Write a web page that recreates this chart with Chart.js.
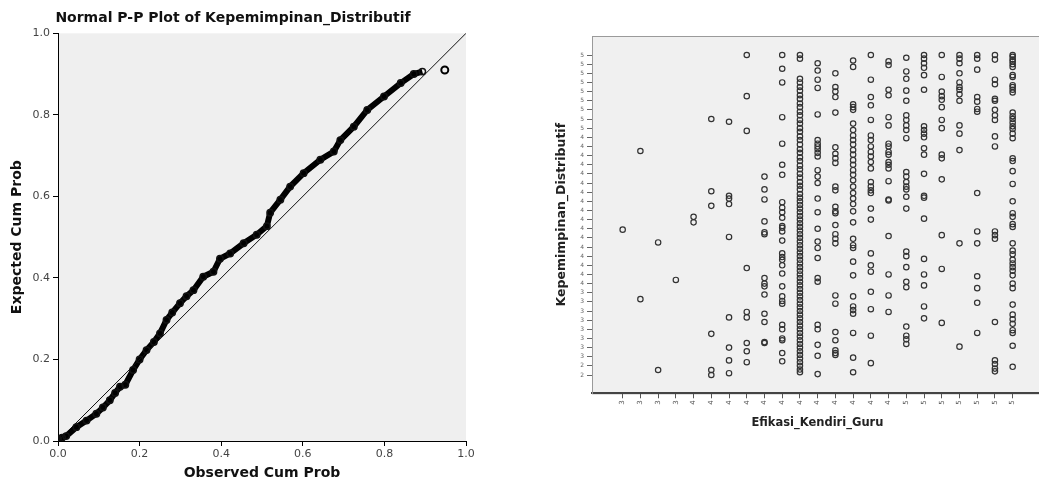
<!DOCTYPE html>
<html>
<head>
<meta charset="utf-8">
<script src="https://cdn.jsdelivr.net/npm/chart.js@4.4.1/dist/chart.umd.min.js"></script>
<style>
  html, body { margin: 0; padding: 0; background: #fff; overflow: hidden; }
  #ppWrap { position: absolute; left: 0; top: 0; width: 480px; height: 485px; }
  #scWrap { position: absolute; left: 540px; top: 0; width: 508px; height: 440px; }
</style>
</head>
<body>
<div id="ppWrap"><canvas id="ppChart"></canvas></div>
<div id="scWrap"><canvas id="scatterChart"></canvas></div>
<script>
// P-P plot: points
const ppObserved = [0.0, 0.01, 0.02, 0.045, 0.07, 0.094, 0.11, 0.127, 0.14, 0.152, 0.165, 0.184, 0.2, 0.217, 0.235, 0.25, 0.266, 0.28, 0.299, 0.315, 0.332, 0.356, 0.381, 0.397, 0.422, 0.455, 0.487, 0.512, 0.52, 0.545, 0.569, 0.602, 0.643, 0.676, 0.692, 0.725, 0.758, 0.799, 0.84, 0.872, 0.893];
const ppExpected = [0.005, 0.008, 0.012, 0.034, 0.05, 0.067, 0.082, 0.10, 0.118, 0.133, 0.138, 0.174, 0.2, 0.223, 0.243, 0.264, 0.297, 0.315, 0.338, 0.355, 0.37, 0.403, 0.415, 0.447, 0.46, 0.485, 0.506, 0.527, 0.56, 0.592, 0.624, 0.657, 0.69, 0.71, 0.738, 0.771, 0.812, 0.845, 0.878, 0.9, 0.906];
const ppOutlier = [{ x: 0.948, y: 0.91 }];
const ppTicks = [0, 0.2, 0.4, 0.6, 0.8, 1.0];

// Scatter: categorical tick labels and point levels per x column
const xCategoryLabels = ['3', '3', '3', '3', '4', '4', '4', '4', '4', '4', '4', '4', '4', '4', '4', '4', '5', '5', '5', '5', '5', '5', '5'];
const yCategoryLabels = ['2', '2', '3', '3', '3', '3', '3', '3', '3', '3', '4', '4', '4', '4', '4', '4', '4', '4', '4', '4', '4', '4', '4', '4', '4', '4', '4', '5', '5', '5', '5', '5', '5', '5', '5', '5'];
const columnLevels = [
  [15.9],
  [24.5, 8.3],
  [14.5, 0.55],
  [10.4],
  [17.3, 16.7],
  [28.0, 20.1, 18.5, 4.5, 0.55, 0.0],
  [27.7, 19.6, 19.3, 18.7, 15.1, 6.3, 3.0, 1.6, 0.2],
  [35.0, 30.5, 26.7, 11.7, 6.9, 6.3, 3.5, 2.6, 1.4],
  [21.7, 20.3, 19.2, 16.8, 15.6, 15.4, 10.6, 10.0, 9.7, 8.8, 6.7, 5.8, 3.6, 3.5],
  [35.0, 33.5, 32.0, 28.2, 25.3, 23.0, 21.9, 18.9, 18.3, 17.8, 17.2, 16.3, 16.1, 15.7, 14.7, 13.3, 12.9, 12.6, 12.0, 11.1, 9.7, 8.6, 8.1, 7.8, 5.5, 5.0, 4.0, 3.8, 2.4, 1.5],
  [35.0, 34.6, 32.4, 32.0, 31.5, 31.1, 30.6, 30.2, 29.7, 29.3, 28.8, 28.4, 27.9, 27.5, 27.0, 26.6, 26.1, 25.7, 25.2, 24.7, 24.3, 23.8, 23.4, 22.9, 22.5, 22.0, 21.6, 21.1, 20.7, 20.3, 19.8, 19.4, 19.0, 18.6, 18.2, 17.8, 17.4, 17.0, 16.6, 16.2, 15.8, 15.4, 15.0, 14.6, 14.2, 13.8, 13.4, 13.0, 12.6, 12.2, 11.8, 11.4, 11.0, 10.6, 10.2, 9.8, 9.4, 9.0, 8.6, 8.2, 7.8, 7.4, 7.0, 6.6, 6.2, 5.8, 5.4, 5.0, 4.6, 4.2, 3.8, 3.4, 3.0, 2.6, 2.2, 1.8, 1.4, 1.0, 0.6, 0.3],
  [34.1, 33.3, 32.3, 31.4, 28.5, 25.7, 25.3, 25.0, 24.7, 24.3, 23.9, 22.4, 21.7, 21.0, 19.3, 17.8, 16.0, 14.6, 13.9, 12.8, 10.6, 10.2, 5.5, 5.0, 3.3, 2.1, 0.1],
  [33.0, 31.5, 31.0, 30.4, 28.7, 24.9, 24.2, 23.7, 23.2, 20.6, 20.2, 18.4, 17.9, 17.7, 16.4, 15.4, 14.9, 14.4, 8.7, 7.8, 4.7, 3.8, 2.7, 2.4, 2.2],
  [34.4, 33.7, 29.6, 29.3, 29.0, 27.5, 26.8, 26.2, 25.7, 25.2, 24.6, 24.1, 23.5, 23.0, 22.4, 21.9, 21.3, 20.6, 19.9, 19.3, 18.7, 17.9, 16.7, 14.9, 14.2, 13.9, 12.4, 10.9, 8.6, 7.5, 7.1, 6.7, 4.6, 1.9, 0.3],
  [35.0, 32.3, 30.4, 29.5, 27.9, 26.2, 25.7, 25.0, 24.4, 23.9, 23.3, 22.6, 21.1, 20.6, 20.2, 19.9, 18.2, 17.0, 13.3, 12.0, 11.3, 9.1, 7.2, 4.3, 1.3],
  [34.3, 33.9, 31.2, 30.6, 28.2, 27.3, 25.3, 25.0, 24.4, 24.1, 23.3, 23.0, 22.6, 21.2, 19.2, 19.1, 15.2, 11.0, 8.7, 6.9],
  [34.7, 33.2, 32.4, 31.1, 30.0, 28.4, 27.9, 27.3, 26.8, 25.9, 22.2, 21.7, 21.1, 20.6, 20.3, 19.5, 18.2, 13.5, 13.0, 11.8, 10.2, 9.6, 5.3, 4.3, 3.9, 3.4],
  [35.0, 34.6, 34.1, 33.6, 32.8, 31.2, 27.2, 26.8, 26.4, 26.0, 24.8, 24.1, 22.0, 19.6, 19.4, 17.1, 12.7, 11.0, 9.8, 7.5, 6.2],
  [35.0, 32.6, 31.0, 30.5, 30.1, 29.3, 27.9, 27.0, 24.1, 23.7, 21.4, 15.3, 11.6, 5.7],
  [35.0, 34.6, 34.1, 33.0, 32.0, 31.5, 31.2, 30.7, 30.0, 27.3, 26.4, 24.6, 14.4, 3.1],
  [35.0, 34.6, 33.4, 30.4, 29.9, 29.1, 28.8, 19.9, 15.7, 14.4, 10.8, 9.5, 7.9, 4.6],
  [35.0, 34.5, 32.3, 31.8, 30.2, 30.0, 29.0, 28.4, 27.9, 26.1, 25.0, 15.7, 15.3, 14.9, 5.8, 1.6, 1.2, 0.7, 0.4],
  [35.0, 34.8, 34.5, 34.3, 34.0, 33.7, 32.8, 32.6, 31.7, 31.5, 31.2, 30.9, 28.7, 28.3, 28.0, 27.6, 27.2, 26.9, 26.4, 25.9, 23.7, 23.4, 22.3, 20.9, 19.0, 17.7, 17.3, 16.5, 16.2, 14.4, 13.6, 13.2, 12.6, 12.2, 11.8, 11.4, 10.9, 10.0, 9.5, 7.7, 6.6, 6.1, 5.6, 4.9, 4.6, 3.2, 0.9]
];

const FONT = 'DejaVu Sans';

const plotBg = {
  id: 'plotBg',
  beforeDraw(chart, args, opts) {
    const { ctx, chartArea: a } = chart;
    ctx.save();
    ctx.fillStyle = opts.color;
    ctx.fillRect(a.left, a.top, a.right - a.left, a.bottom - a.top);
    if (opts.frame) {
      ctx.strokeStyle = opts.frame;
      ctx.lineWidth = 1;
      ctx.strokeRect(a.left + 0.5, a.top + 0.5, a.right - a.left, a.bottom - a.top);
    }
    ctx.restore();
  }
};

// ---- left: Normal P-P plot ----
const ppPoints = ppObserved.map((x, i) => ({ x: x, y: ppExpected[i] }));

new Chart(document.getElementById('ppChart').getContext('2d'), {
  type: 'scatter',
  plugins: [plotBg],
  data: {
    datasets: [
      {
        data: [{ x: 0, y: 0 }, { x: 1, y: 1 }],
        showLine: true,
        borderColor: '#111',
        borderWidth: 1,
        pointRadius: 0
      },
      {
        data: ppPoints,
        showLine: true,
        borderColor: '#000',
        borderWidth: 6,
        pointRadius: 3.2,
        pointBorderWidth: 1.5,
        pointBorderColor: '#111',
        pointBackgroundColor: 'rgba(0,0,0,0)'
      },
      {
        data: ppOutlier,
        pointRadius: 3.5,
        pointBorderWidth: 2,
        pointBorderColor: '#000',
        pointBackgroundColor: 'rgba(0,0,0,0)'
      }
    ]
  },
  options: {
    responsive: true,
    maintainAspectRatio: false,
    animation: false,
    layout: { padding: { left: 0, right: 14, top: 0, bottom: 0 } },
    plugins: {
      legend: { display: false },
      tooltip: { enabled: false },
      plotBg: { color: '#efefef' },
      title: {
        display: true,
        text: 'Normal P-P Plot of Kepemimpinan_Distributif',
        color: '#111',
        font: { family: FONT, size: 14, weight: 'bold' },
        padding: { top: 10, bottom: 6.5 }
      }
    },
    scales: {
      x: {
        type: 'linear',
        min: 0,
        max: 1,
        afterFit: s => { s.height = 44; },
        afterBuildTicks: s => { s.ticks = ppTicks.map(v => ({ value: v })); },
        ticks: { color: '#444', font: { family: FONT, size: 11 }, padding: 2, callback: v => v.toFixed(1) },
        grid: { drawOnChartArea: false, drawTicks: true, tickLength: 5, color: '#000' },
        border: { display: true, color: '#000', width: 1 },
        title: { display: true, text: 'Observed Cum Prob', color: '#111', font: { family: FONT, size: 14, weight: 'bold' }, padding: { top: 0, bottom: 3 } }
      },
      y: {
        type: 'linear',
        min: 0,
        max: 1,
        afterFit: s => { s.width = 58; },
        afterBuildTicks: s => { s.ticks = ppTicks.map(v => ({ value: v })); },
        ticks: { color: '#444', font: { family: FONT, size: 11 }, padding: 3, callback: v => v.toFixed(1) },
        grid: { drawOnChartArea: false, drawTicks: true, tickLength: 5, color: '#000' },
        border: { display: true, color: '#000', width: 1 },
        title: { display: true, text: 'Expected Cum Prob', color: '#111', font: { family: FONT, size: 14, weight: 'bold' }, padding: { top: 9, bottom: 0 } }
      }
    }
  }
});

// ---- right: scatter of categories ----
const scatterPoints = [];
columnLevels.forEach((levels, col) => {
  levels.forEach(lv => scatterPoints.push({ x: col, y: lv }));
});

new Chart(document.getElementById('scatterChart').getContext('2d'), {
  type: 'scatter',
  plugins: [plotBg],
  data: {
    datasets: [{
      data: scatterPoints,
      pointRadius: 2.7,
      pointBorderWidth: 1.2,
      pointBorderColor: '#333',
      pointBackgroundColor: 'rgba(0,0,0,0)'
    }]
  },
  options: {
    responsive: true,
    maintainAspectRatio: false,
    animation: false,
    layout: { padding: { left: 0, right: 1, top: 36, bottom: 0 } },
    plugins: {
      legend: { display: false },
      tooltip: { enabled: false },
      plotBg: { color: '#f0f0f0', frame: '#9a9a9a' }
    },
    scales: {
      x: {
        type: 'linear',
        min: -1.73,
        max: 23.7,
        afterFit: s => { s.height = 46.7; },
        afterBuildTicks: s => { s.ticks = xCategoryLabels.map((_, i) => ({ value: i })); },
        ticks: {
          color: '#555',
          font: { family: FONT, size: 7 },
          autoSkip: false,
          minRotation: 90,
          maxRotation: 90,
          padding: 2,
          callback: v => xCategoryLabels[v]
        },
        grid: { drawOnChartArea: false, drawTicks: true, tickLength: 5, color: '#555' },
        border: { display: true, color: '#444', width: 2 },
        title: { display: true, text: 'Efikasi_Kendiri_Guru', color: '#222', font: { family: FONT, size: 11.5, weight: 'bold' }, padding: { top: 0, bottom: 10 } }
      },
      y: {
        type: 'linear',
        min: -2,
        max: 37.08,
        afterFit: s => { s.width = 52; },
        afterBuildTicks: s => { s.ticks = yCategoryLabels.map((_, i) => ({ value: i })); },
        ticks: {
          color: '#666',
          font: { family: FONT, size: 6 },
          autoSkip: false,
          padding: 3,
          callback: v => yCategoryLabels[v]
        },
        grid: { drawOnChartArea: false, drawTicks: true, tickLength: 5, color: '#666' },
        border: { display: true, color: '#9a9a9a', width: 1 },
        title: { display: true, text: 'Kepemimpinan_Distributif', color: '#222', font: { family: FONT, size: 12.5, weight: 'bold' }, padding: { top: 14, bottom: 0 } }
      }
    }
  }
});
</script>
</body>
</html>
